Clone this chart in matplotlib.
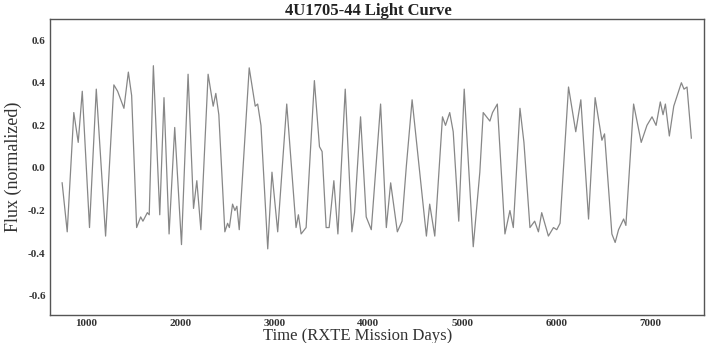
import numpy as np
import matplotlib.pyplot as plt

# light curve vertices (RXTE mission days, normalized flux)
days = [746, 800, 870, 917, 960, 1037, 1109, 1208, 1296, 1336,
        1403, 1450, 1485, 1538, 1581, 1605, 1652, 1672, 1716, 1784,
        1829, 1883, 1943, 2015, 2085, 2143, 2178, 2221, 2298, 2352,
        2380, 2412, 2476, 2505, 2524, 2558, 2583, 2604, 2629, 2735,
        2799, 2825, 2860, 2932, 2977, 3038, 3134, 3233, 3258, 3287,
        3340, 3428, 3482, 3510, 3553, 3585, 3635, 3678, 3756, 3827,
        3855, 3919, 3979, 4033, 4132, 4193, 4239, 4310, 4360, 4406,
        4467, 4531, 4619, 4654, 4708, 4790, 4822, 4867, 4904, 4963,
        5021, 5045, 5117, 5187, 5223, 5258, 5294, 5322, 5373, 5454,
        5507, 5543, 5614, 5656, 5720, 5770, 5810, 5845, 5916, 5970,
        6005, 6040, 6130, 6207, 6261, 6343, 6413, 6485, 6513, 6591,
        6626, 6662, 6716, 6740, 6822, 6903, 6964, 7018, 7061, 7106,
        7135, 7160, 7202, 7249, 7330, 7358, 7390, 7436]
flux = [-0.07, -0.30, 0.26, 0.12, 0.36, -0.28, 0.37, -0.32, 0.39, 0.36,
        0.28, 0.45, 0.34, -0.28, -0.23, -0.25, -0.21, -0.22, 0.48, -0.22,
        0.33, -0.31, 0.19, -0.36, 0.44, -0.19, -0.06, -0.29, 0.44, 0.29,
        0.35, 0.25, -0.30, -0.26, -0.28, -0.17, -0.20, -0.18, -0.29, 0.47,
        0.29, 0.30, 0.20, -0.38, -0.02, -0.30, 0.30, -0.28, -0.22, -0.31,
        -0.28, 0.41, 0.10, 0.077, -0.28, -0.28, -0.06, -0.31, 0.37, -0.30,
        -0.21, 0.24, -0.23, -0.29, 0.30, -0.28, -0.07, -0.30, -0.25, 0.01,
        0.32, 0.05, -0.32, -0.17, -0.32, 0.24, 0.20, 0.26, 0.17, -0.25,
        0.37, 0.18, -0.37, -0.02, 0.26, 0.24, 0.22, 0.26, 0.30, -0.31,
        -0.20, -0.28, 0.28, 0.12, -0.28, -0.25, -0.30, -0.21, -0.32, -0.28,
        -0.29, -0.26, 0.38, 0.17, 0.32, -0.24, 0.33, 0.13, 0.16, -0.31,
        -0.35, -0.29, -0.24, -0.27, 0.30, 0.12, 0.20, 0.24, 0.20, 0.31,
        0.25, 0.30, 0.15, 0.29, 0.40, 0.37, 0.38, 0.14]

xticks = [1000, 2000, 3000, 4000, 5000, 6000, 7000]
yticks = [-0.6, -0.4, -0.2, 0.0, 0.2, 0.4, 0.6]

fig = plt.figure(figsize=(7.22, 3.43), dpi=100)
ax = fig.add_axes([0.069, 0.082, 0.906, 0.863])

ax.plot(days, flux, color='#878787', linewidth=0.9)

ax.set_xlim(615, 7570)
ax.set_ylim(-0.69, 0.7)
ax.set_xticks(xticks)
ax.set_yticks(yticks)
ax.set_yticklabels([f"{v:.1f}" for v in yticks])
ax.tick_params(length=0, pad=3, labelsize=8, colors='#333333')
for lbl in ax.get_xticklabels() + ax.get_yticklabels():
    lbl.set_fontfamily('Liberation Serif')
    lbl.set_fontweight('bold')

for s in ax.spines.values():
    s.set_color('#555555')
    s.set_linewidth(1.0)

ax.set_title('4U1705-44 Light Curve', fontfamily='Liberation Serif',
             fontweight='bold', fontsize=12, pad=1, color='#222222',
             x=0.487)
ax.set_xlabel('Time (RXTE Mission Days)', fontfamily='Liberation Serif',
              fontsize=12, labelpad=0, color='#333333')
ax.xaxis.set_label_coords(0.47, -0.045, transform=ax.transAxes)
ax.xaxis.label.set_va('top')
ax.set_ylabel('Flux (normalized)', fontfamily='Liberation Serif',
              fontsize=13, labelpad=4, color='#333333')

fig.savefig('out.png', dpi=100)
